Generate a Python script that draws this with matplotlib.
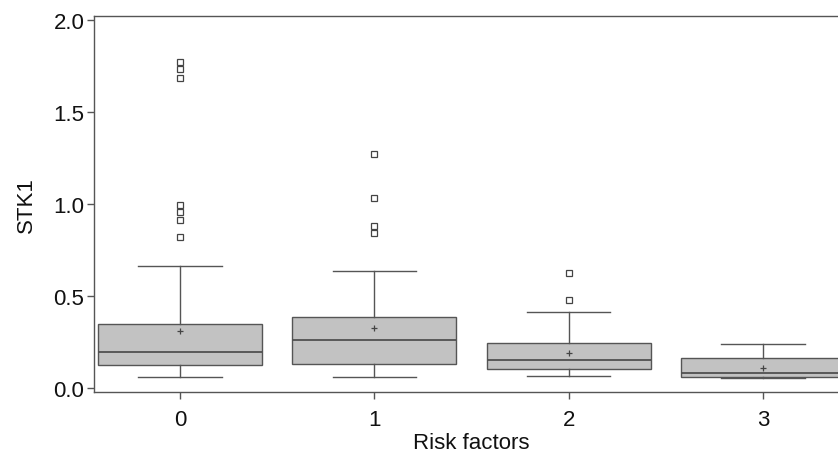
import matplotlib
matplotlib.use("Agg")
import matplotlib.pyplot as plt

plt.rcParams['font.family'] = ['Liberation Sans', 'DejaVu Sans']

categories = ["0", "1", "2", "3"]
whislo = [0.058, 0.058, 0.064, 0.056]
q1 = [0.125, 0.132, 0.103, 0.062]
med = [0.194, 0.259, 0.152, 0.080]
q3 = [0.348, 0.388, 0.246, 0.165]
whishi = [0.661, 0.638, 0.413, 0.239]
means = [0.308, 0.324, 0.190, 0.109]
fliers = [
    [1.772, 1.734, 1.685, 0.995, 0.955, 0.913, 0.819],
    [1.272, 1.033, 0.882, 0.844],
    [0.625, 0.480],
    [],
]
yticks = [0.0, 0.5, 1.0, 1.5, 2.0]

fig = plt.figure(figsize=(8.38, 4.56), dpi=100)
W, H = 838, 456
ax = fig.add_axes([94 / W, 63 / H, 755 / W, 376 / H])

stats = []
for i, c in enumerate(categories):
    stats.append(dict(label=c, whislo=whislo[i], q1=q1[i], med=med[i], q3=q3[i],
                      whishi=whishi[i], mean=means[i], fliers=fliers[i]))

edge = "#555555"
ax.bxp(stats, positions=range(len(categories)), widths=0.845, patch_artist=True,
       showmeans=True, showfliers=True,
       boxprops=dict(facecolor="#c2c2c2", edgecolor=edge, linewidth=1.0),
       medianprops=dict(color="#505050", linewidth=1.3),
       whiskerprops=dict(color=edge, linewidth=1.0),
       capprops=dict(color=edge, linewidth=1.0),
       capwidths=0.43,
       meanprops=dict(marker="+", markeredgecolor="#444444", markersize=5, markeredgewidth=0.9),
       flierprops=dict(marker="s", markerfacecolor="white", markeredgecolor="#444444",
                       markersize=4, markeredgewidth=0.9))

ax.set_xlim(-0.443, 3.443)
ax.set_ylim(-0.022, 2.022)
ax.set_yticks(yticks)
ax.set_yticklabels([f"{v:.1f}" for v in yticks])
ax.set_xticks(range(len(categories)))
ax.set_xticklabels(categories)
for s in ax.spines.values():
    s.set_color("#555555")
    s.set_linewidth(1.0)
ax.tick_params(axis="both", direction="out", length=5, width=1.0, color="#555555",
               labelsize=16, labelcolor="#111111", pad=2)
ax.tick_params(axis="x", pad=7)
ax.set_xlabel("Risk factors", fontsize=16, color="#111111", labelpad=2)
ax.set_ylabel("STK1", fontsize=16, color="#111111", labelpad=12)

fig.savefig("out.png", dpi=100)
